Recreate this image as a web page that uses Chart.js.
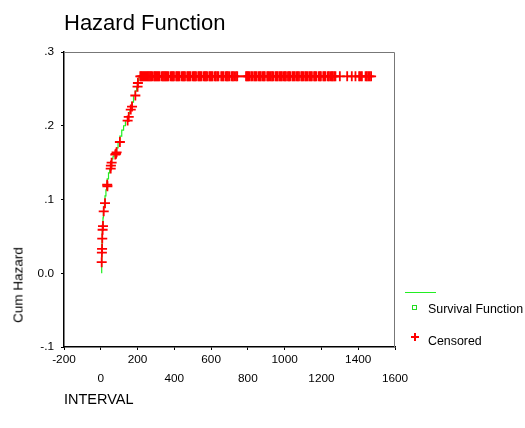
<!DOCTYPE html>
<html>
<head>
<meta charset="utf-8">
<script src="https://cdn.jsdelivr.net/npm/chart.js@4.4.1/dist/chart.umd.min.js"></script>
<style>
  body { margin: 0; background: #fff; }
  #wrap { position: relative; width: 525px; height: 428px; font-family: "Liberation Sans", Arial, sans-serif; }
  #c { position: absolute; left: 0; top: 0; }
  .txt { position: absolute; color: #000; white-space: nowrap; font-weight: normal; }
</style>
</head>
<body>
<div id="wrap">
  <canvas id="c" width="525" height="428"></canvas>
  <div class="txt" style="left:64px; top:10px; font-size:22px;">Hazard Function</div>
  <div class="txt" style="left:64px; top:391px; font-size:14.5px;">INTERVAL</div>
  <div class="txt" style="left:18px; top:285px; font-size:13.5px; transform: translate(-50%, -50%) rotate(-90deg);">Cum Hazard</div>
  <div style="position:absolute; left:405px; top:292px; width:31px; height:1px; background:#22ee22;"></div>
  <div style="position:absolute; left:412px; top:305px; width:3px; height:3px; border:1px solid #22dd22; background:#fff;"></div>
  <div class="txt" style="left:428px; top:302px; font-size:12.4px; line-height:15px;">Survival Function</div>
  <div style="position:absolute; left:411px; top:336px; width:8px; height:1.5px; background:#ff0000;"></div>
  <div style="position:absolute; left:414.3px; top:333px; width:1.5px; height:8px; background:#ff0000;"></div>
  <div class="txt" style="left:428px; top:334px; font-size:12.4px; line-height:15px;">Censored</div>
</div>
<script>
// cumulative hazard step function (time, value)
const eventTimes = [5, 5.5, 6, 7, 8, 10, 12, 14, 16, 20, 23, 28, 32, 35, 42, 48, 54, 55, 59, 66, 72, 79, 83, 86, 94, 104,
  114, 124, 134, 146, 152, 158, 163, 170, 178, 188, 195, 200, 202, 208, 213, 1470];
const eventHazard = [0, .015, .028, .033, .047, .059, .064, .075, .084, .09, .095, .105, .113, .12, .128, .136, .142, .146, .15,
  .155, .158, .161, .162, .164, .17, .178, .186, .194, .2, .207, .212, .217, .222, .226, .232, .241, .247, .253, .258, .262, .267, .267];

// censored observations
const censTimes = [5, 6, 7, 8, 10, 12, 16, 23, 35, 36, 54, 55, 59, 79, 83, 86, 104, 146, 152, 163, 170, 188, 200, 202,
  215, 220, 226, 232, 238, 244, 250, 256, 262, 268, 274, 280, 290, 296, 302, 308, 314, 320, 332, 338, 344, 350, 356, 362,
  368, 380, 386, 392, 398, 410, 416, 422, 428, 440, 446, 452, 458, 470, 476, 482, 488, 500, 506, 512, 518, 530, 536, 542,
  548, 560, 566, 572, 578, 590, 596, 602, 608, 620, 626, 634, 640, 655, 662, 668, 680, 686, 692, 700, 712, 718, 725, 735,
  742, 790, 796, 802, 808, 818, 825, 835, 841, 847, 858, 864, 870, 880, 886, 892, 905, 911, 917, 925, 932, 938, 950, 956,
  962, 972, 978, 985, 995, 1001, 1007, 1018, 1024, 1030, 1042, 1048, 1055, 1065, 1071, 1078, 1090, 1096, 1102, 1112, 1118,
  1125, 1135, 1141, 1148, 1160, 1166, 1172, 1185, 1191, 1197, 1210, 1216, 1222, 1235, 1241, 1250, 1256, 1262, 1270, 1276,
  1300, 1340, 1365, 1385, 1405, 1412, 1420, 1440, 1447, 1455, 1462, 1470];
const censEarlyHazard = [.015, .028, .033, .047, .059, .064, .084, .095, .12, .118, .142, .146, .15, .161, .162, .164, .178,
  .207, .212, .222, .226, .241, .253, .258];
const plateauHazard = 0.267;

const xTicksTop = [-200, 200, 600, 1000, 1400];
const yTickLabels = { '0.3': '.3', '0.2': '.2', '0.1': '.1', '0': '0.0', '-0.1': '-.1' };

const stepPoints = eventTimes.map((t, i) => ({ x: t, y: eventHazard[i] }));
const censPoints = censTimes.map((t, i) => ({ x: t, y: i < censEarlyHazard.length ? censEarlyHazard[i] : plateauHazard }));

// gray top/right frame of the plot
const framePlugin = {
  id: 'frame',
  afterDraw(chart) {
    const { ctx, chartArea: a } = chart;
    ctx.save();
    ctx.strokeStyle = '#777';
    ctx.lineWidth = 1;
    ctx.beginPath();
    ctx.moveTo(a.left, a.top + 0.5);
    ctx.lineTo(a.right - 0.5, a.top + 0.5);
    ctx.lineTo(a.right - 0.5, a.bottom);
    ctx.stroke();
    ctx.restore();
  }
};

new Chart(document.getElementById('c'), {
  type: 'scatter',
  data: {
    datasets: [
      {
        label: 'Survival Function',
        data: stepPoints,
        showLine: true,
        stepped: 'after',
        borderColor: '#22ee22',
        borderWidth: 1.2,
        pointRadius: 0,
        order: 2
      },
      {
        label: 'Censored',
        data: censPoints,
        pointStyle: 'cross',
        pointRadius: 5,
        borderColor: '#ff0000',
        borderWidth: 1.8,
        backgroundColor: '#ff0000',
        order: 1
      }
    ]
  },
  options: {
    responsive: false,
    animation: false,
    layout: { padding: { left: 0, top: 52, right: 130, bottom: 31 } },
    plugins: { legend: { display: false }, tooltip: { enabled: false } },
    scales: {
      x: {
        min: -200, max: 1600,
        afterFit(s) { s.height = 50; },
        ticks: {
          stepSize: 200,
          padding: 0,
          color: '#000',
          font: { family: 'Liberation Sans', size: 11.8, lineHeight: 1.65 },
          maxRotation: 0,
          autoSkip: false,
          callback: v => xTicksTop.includes(v) ? [String(v), ''] : ['', String(v)]
        },
        grid: { drawOnChartArea: false, drawTicks: true, tickLength: 3, color: '#000' },
        border: { color: '#000', width: 1.5 }
      },
      y: {
        min: -0.1, max: 0.3,
        afterFit(s) { s.width = 64; },
        ticks: {
          stepSize: 0.1,
          padding: 7,
          color: '#000',
          font: { family: 'Liberation Sans', size: 11.8 },
          callback: v => yTickLabels[String(Math.round(v * 10) / 10)]
        },
        grid: { drawOnChartArea: false, drawTicks: true, tickLength: 3, color: '#000' },
        border: { color: '#000', width: 1.5 }
      }
    }
  },
  plugins: [framePlugin]
});
</script>
</body>
</html>
